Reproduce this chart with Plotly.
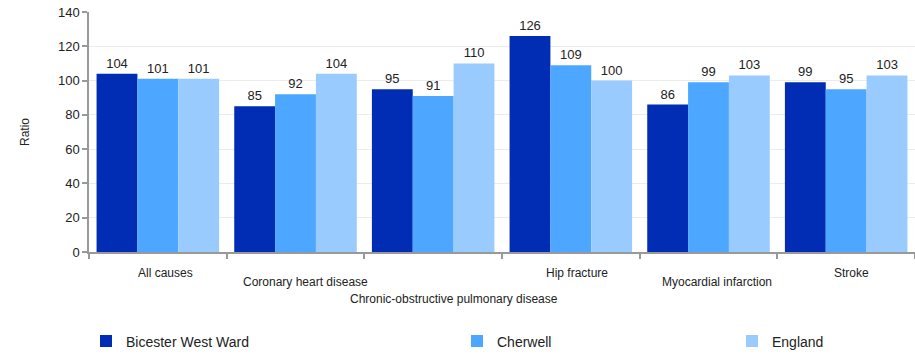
import plotly.graph_objects as go

# Standardised ratios by cause, for the ward, the district and England
categories = [
    "All causes",
    "Coronary heart disease",
    "Chronic-obstructive pulmonary disease",
    "Hip fracture",
    "Myocardial infarction",
    "Stroke",
]
bicester_west = [104, 85, 95, 126, 86, 99]
cherwell = [101, 92, 91, 109, 99, 95]
england = [101, 104, 110, 100, 103, 103]

series_names = ["Bicester West Ward", "Cherwell", "England"]
series_values = [bicester_west, cherwell, england]
series_colors = ["#002db3", "#4da6ff", "#99cbff"]
y_ticks = [0, 20, 40, 60, 80, 100, 120, 140]

# Category labels are staggered onto three rows below the axis
label_row = [0, 1, 2, 0, 1, 0]
row_offset = [-21, -30, -47]
label_xshift = [8, 10, 21, 6, 8, 5]

legend_keys = ["legend", "legend2", "legend3"]
legend_x = [86, 457, 732]

FONT = "Liberation Sans, Arial, sans-serif"
W, H = 915, 358
ML, MR, MT, MB = 89, 0, 12, 102

fig = go.Figure()
for name, vals, col, lg in zip(series_names, series_values, series_colors, legend_keys):
    fig.add_trace(go.Bar(
        x=categories, y=vals, name=name, legend=lg,
        marker=dict(color=col, line=dict(width=0)),
        text=[str(v) for v in vals], textposition="outside",
        textfont=dict(family=FONT, size=13, color="#222"),
        cliponaxis=False,
    ))

annotations = []
for i, cat in enumerate(categories):
    annotations.append(dict(
        x=cat, xref="x", y=0, yref="paper", yanchor="middle",
        yshift=row_offset[label_row[i]], xshift=label_xshift[i],
        text=cat, showarrow=False,
        font=dict(family=FONT, size=12, color="#222"),
    ))
annotations.append(dict(
    x=0, xref="paper", xanchor="center", y=0.5, yref="paper", yanchor="middle",
    xshift=-64,
    text="Ratio", textangle=-90, showarrow=False,
    font=dict(family=FONT, size=12, color="#222"),
))

legends = {}
for lg, lx in zip(legend_keys, legend_x):
    legends[lg] = dict(
        x=(lx - ML) / (W - ML - MR), xref="paper", xanchor="left",
        y=-(347 - (H - MB)) / (H - MT - MB), yref="paper", yanchor="middle",
        orientation="h", bgcolor="rgba(0,0,0,0)",
        font=dict(family=FONT, size=14, color="#222"),
        itemwidth=30, tracegroupgap=0,
    )

fig.update_layout(
    width=W, height=H,
    margin=dict(l=ML, r=MR, t=MT, b=MB, pad=0),
    paper_bgcolor="white", plot_bgcolor="white",
    barmode="group", bargap=0.11, bargroupgap=0,
    showlegend=True,
    annotations=annotations,
    font=dict(family=FONT, color="#222"),
    xaxis=dict(
        type="category", showticklabels=False,
        tickson="boundaries", ticks="outside", ticklen=5, tickcolor="#999", tickwidth=1.5,
        showline=True, linecolor="#999", linewidth=1.5,
        showgrid=False, zeroline=False,
    ),
    yaxis=dict(
        range=[0, 140], tickvals=y_ticks,
        ticks="outside", ticklen=5, tickcolor="#999", tickwidth=1.5,
        showline=True, linecolor="#999", linewidth=1.5,
        gridcolor="#ececec", gridwidth=1, zeroline=False,
        tickfont=dict(family=FONT, size=13, color="#222"),
    ),
    **legends,
)

fig.write_html("out.html")
